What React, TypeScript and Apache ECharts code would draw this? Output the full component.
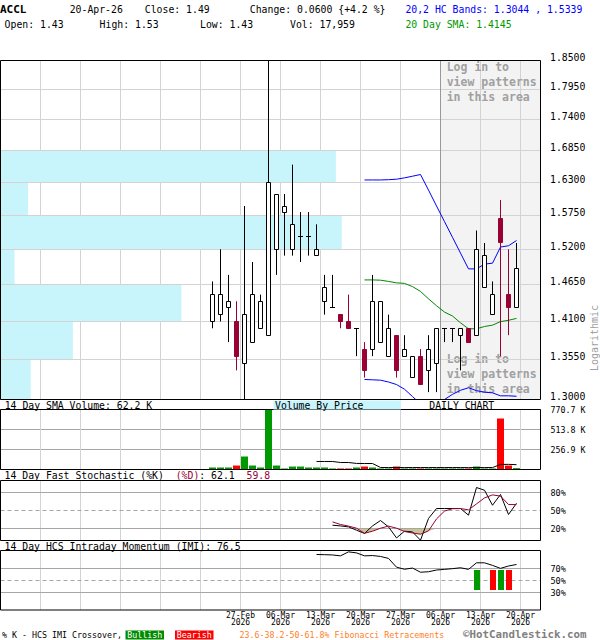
import React, { useEffect, useRef } from 'react';
import * as echarts from 'echarts';

// ---------------- data ----------------
const DATES = [
  '2026-02-24', '2026-02-25', '2026-02-26', '2026-02-27', '2026-03-02', '2026-03-03', '2026-03-04',
  '2026-03-05', '2026-03-06', '2026-03-09', '2026-03-10', '2026-03-11', '2026-03-12', '2026-03-13',
  '2026-03-16', '2026-03-17', '2026-03-18', '2026-03-19', '2026-03-20', '2026-03-23', '2026-03-24',
  '2026-03-25', '2026-03-26', '2026-03-27', '2026-03-30', '2026-03-31', '2026-04-01', '2026-04-02',
  '2026-04-06', '2026-04-07', '2026-04-08', '2026-04-09', '2026-04-10', '2026-04-13', '2026-04-14',
  '2026-04-15', '2026-04-16', '2026-04-17', '2026-04-20',
];
const OPEN = [1.41, 1.42, 1.43, 1.41, 1.35, 1.38, 1.40, 1.39, 1.52, 1.58, 1.52, 1.54, 1.54, 1.51, 1.44, 1.43, 1.42, 1.41, 1.40, 1.37,
  1.37, 1.38, 1.36, 1.39, 1.36, 1.33, 1.36, 1.34, 1.35, 1.40, 1.40, 1.39, 1.40, 1.39, 1.46, 1.42, 1.57, 1.45, 1.43];
const HIGH = [1.47, 1.52, 1.48, 1.44, 1.59, 1.50, 1.45, 1.85, 1.61, 1.61, 1.66, 1.58, 1.58, 1.56, 1.48, 1.48, 1.42, 1.45, 1.40, 1.38,
  1.48, 1.44, 1.42, 1.39, 1.39, 1.36, 1.37, 1.39, 1.40, 1.40, 1.40, 1.40, 1.40, 1.55, 1.53, 1.47, 1.60, 1.52, 1.53];
const LOW = [1.40, 1.41, 1.38, 1.34, 1.30, 1.38, 1.40, 1.39, 1.48, 1.51, 1.51, 1.50, 1.51, 1.51, 1.42, 1.43, 1.40, 1.40, 1.36, 1.33,
  1.36, 1.38, 1.36, 1.33, 1.36, 1.33, 1.32, 1.31, 1.31, 1.38, 1.38, 1.34, 1.38, 1.39, 1.46, 1.42, 1.36, 1.39, 1.43];
const CLOSE = [1.45, 1.45, 1.44, 1.36, 1.42, 1.45, 1.44, 1.63, 1.61, 1.59, 1.56, 1.54, 1.54, 1.52, 1.46, 1.43, 1.41, 1.40, 1.40, 1.34,
  1.44, 1.44, 1.40, 1.34, 1.37, 1.36, 1.32, 1.37, 1.40, 1.40, 1.40, 1.40, 1.38, 1.52, 1.51, 1.45, 1.53, 1.43, 1.49];
const VOLUME_K = [26, 26, 26, 51, 167, 51, 26, 770, 51, 13, 38, 38, 26, 26, 26, 13, 13, 13, 26, 38,
  26, 13, 13, 38, 13, 13, 13, 13, 13, 13, 13, 13, 13, 38, 13, 13, 655, 51, 18];

const VOL_SMA_START = 13;
const VOL_SMA_K = [103, 103, 103, 90, 90, 78, 77, 77, 26, 25, 26, 25, 25, 25, 25, 25, 25, 25, 25, 24, 25, 25, 25, 65, 66, 62.2];

const BAND_START = 19;
const HC_UPPER = [1.6337, 1.6337, 1.6337, 1.6342, 1.635, 1.6373, 1.6401, 1.643, 1.6166, 1.5901, 1.5644, 1.539, 1.514, 1.4893,
  1.4893, 1.4967, 1.4982, 1.5235, 1.5256, 1.5339];
const HC_LOWER = [1.3274, 1.3269, 1.3264, 1.3239, 1.3204, 1.314, 1.304, 1.294, 1.288, 1.289, 1.300, 1.307, 1.3125, 1.316,
  1.312, 1.310, 1.309, 1.305, 1.305, 1.3044];
const SMA20 = [1.4723, 1.4723, 1.4719, 1.4700, 1.4678, 1.4670, 1.4621, 1.4548, 1.4436, 1.4333, 1.4238, 1.418, 1.408, 1.3993,
  1.3993, 1.4026, 1.4046, 1.4098, 1.4117, 1.4145];

const STOCH_START = 15;
const STOCH_K = [25.5, 24.3, 22.7, 17.2, 11.7, 24.3, 33.3, 22.7, 4.3, 15.5, 14.3, 0.5, 36.7, 53.3, 53.3, 53.3, 53.3, 42.2,
  88.3, 83.8, 58.8, 76.7, 43.3, 62.1];
const STOCH_D = [31, 26.7, 24, 20.5, 12, 15.5, 20.5, 24, 20.5, 15, 12.5, 10.5, 16, 36, 49, 53, 53.3, 51, 61, 71, 76, 74, 60, 59.8];
const OVERSOLD = 20;

const IMI_START = 13;
const IMI = [93.3, 93, 92.5, 91, 97.7, 96, 91, 91.5, 90, 86.7, 72, 68.5, 70.5, 63.5, 64.3, 67.2, 68.3, 69.5, 71, 68.3,
  79.3, 79.3, 75, 70, 73.9, 76.5];
const CROSS_DATES = ['2026-04-13', '2026-04-15', '2026-04-16', '2026-04-17'];
const CROSS_KIND = ['bull', 'bear', 'bull', 'bear'];
const CROSS_RANGE = [33, 67];

const PRICE_TICKS = [1.30, 1.355, 1.41, 1.465, 1.52, 1.575, 1.63, 1.685, 1.74, 1.795, 1.85];
const VBP_LOW = [1.30, 1.355, 1.41, 1.465, 1.52, 1.575, 1.63];
const VBP_HIGH = [1.355, 1.41, 1.465, 1.52, 1.575, 1.63, 1.685];
const VBP_PCT = [5.6, 13.4, 33.5, 2.6, 63.2, 5.1, 62.1];

const VOL_AXIS_MAX = 770.7;
const VOL_TICK = 256.9;
const STOCH_LEVELS = [20, 50, 80];
const IMI_LEVELS = [30, 50, 70];
const PATTERN_ZONE_FROM = '2026-04-06';

// ---------------- layout / style ----------------
const MONO = '"DejaVu Sans Mono", monospace';
const X_MIN = -26.5;
const X_MAX = 41;
const UP_COLOR = '#000000';
const DOWN_COLOR = '#990033';
const GRID_LIGHT = '#d3d3d3';
const GRID_MID = '#a6a6a6';
const MONTHS = ['Jan', 'Feb', 'Mar', 'Apr', 'May', 'Jun', 'Jul', 'Aug', 'Sep', 'Oct', 'Nov', 'Dec'];

const snap = (v: number) => Math.round(v - 0.5) + 0.5;

function dateLabel(v: number): string {
  const i = Math.round(v - 0.5);
  if (Math.abs(v - 0.5 - i) > 1e-6 || i < 0 || i >= DATES.length) return '';
  const [y, m, d] = DATES[i].split('-');
  return `${d}-${MONTHS[Number(m) - 1]}\n${y}`;
}

function xAxisFor(gridIndex: number, labels: boolean) {
  return {
    type: 'value', gridIndex, min: X_MIN, max: X_MAX, interval: 5,
    axisLine: { show: false }, axisTick: { show: false },
    axisLabel: labels
      ? { show: true, formatter: dateLabel, fontSize: 8, lineHeight: 7.5, fontFamily: MONO, color: '#000', margin: 1.5 }
      : { show: false },
    splitLine: { show: true, lineStyle: { color: GRID_LIGHT, width: 1 } },
  };
}

function levelSeries(xAxisIndex: number, yAxisIndex: number, levels: number[], opts: any) {
  return {
    type: 'custom', xAxisIndex, yAxisIndex, z: opts.z, silent: true,
    data: levels.map((v) => [0, v]),
    renderItem: (params: any, api: any) => {
      const cs = params.coordSys;
      const v = api.value(1);
      const y = snap(api.coord([0, v])[1]);
      return {
        type: 'group',
        children: [
          { type: 'line', shape: { x1: cs.x, y1: y, x2: cs.x + cs.width, y2: y },
            style: { stroke: opts.color, lineWidth: 1, lineDash: opts.dashed && opts.dashed(v) ? [4, 3] : null } },
          { type: 'text', x: cs.x + cs.width + opts.gap, y: y + opts.dy,
            style: { text: opts.fmt(v), fill: '#000', fontSize: opts.size, fontFamily: MONO,
              align: 'left', verticalAlign: 'middle', textAlign: 'left', textVerticalAlign: 'middle' } },
        ],
      };
    },
  };
}

function T(x: number, y: number, text: string, o: any = {}) {
  return {
    type: 'text', x, y, z: o.z ?? 50, rotation: o.rotation || 0, silent: true,
    style: {
      text, fill: o.fill || '#000', fontSize: o.size || 9.8, fontFamily: MONO,
      fontWeight: o.bold ? 'bold' : 'normal',
      lineHeight: o.lineHeight,
      align: o.align || 'left', verticalAlign: 'middle',
      textAlign: o.align || 'left', textVerticalAlign: 'middle',
    },
  };
}

function buildOption() {
  const zoneX = DATES.indexOf(PATTERN_ZONE_FROM) + 0.5;
  const gridBase = { show: true, borderColor: '#000', borderWidth: 1, backgroundColor: 'transparent', z: 10,
    containLabel: false, outerBoundsMode: 'none' };

  const lineS = (xi: number, yi: number, data: any[], color: string, z = 3) => ({
    type: 'line', xAxisIndex: xi, yAxisIndex: yi, data, symbol: 'none', showSymbol: false, silent: true, z,
    lineStyle: { color, width: 1 }, emphasis: { disabled: true }, animation: false,
  });

  const loginLines = ['Log in to', 'view patterns', 'in this area'];
  const graphic: any[] = [
    T(0, 9.2, 'ACCL', { bold: true, size: 11 }),
    T(69.7, 9.2, '20-Apr-26'),
    T(144.8, 9.2, 'Close: 1.49'),
    T(249.8, 9.2, 'Change: 0.0600 {+4.2 %}'),
    T(405.4, 9.2, '20,2 HC Bands: 1.3044 , 1.5339', { fill: '#0000ff' }),
    T(4.6, 24.2, 'Open: 1.43'),
    T(99.6, 24.2, 'High: 1.53'),
    T(200, 24.2, 'Low: 1.43'),
    T(290, 24.2, 'Vol: 17,959'),
    T(405.4, 24.2, '20 Day SMA: 1.4145', { fill: '#009900' }),
    ...loginLines.map((s, k) => T(446.7, 67.3 + 15 * k, s, { bold: true, size: 11.5, fill: '#a0a0a0', z: 1 })),
    ...loginLines.map((s, k) => T(446.7, 359.3 + 15 * k, s, { bold: true, size: 11.5, fill: '#a0a0a0', z: 1 })),
    T(594, 338, 'Logarithmic', { fill: '#a0a0a0', size: 10, align: 'center', rotation: Math.PI / 2 }),
    T(4.7, 405.5, '14 Day SMA Volume: 62.2 K'),
    { type: 'rect', z: 40, silent: true, shape: { x: 273.5, y: 400.5, width: 127.5, height: 9 }, style: { fill: '#c8f4fc' } },
    T(275, 405.5, 'Volume By Price'),
    T(429.3, 405.5, 'DAILY CHART'),
    T(4.6, 475.8, '14 Day Fast Stochastic (%K)'),
    T(175.7, 475.8, '(%D)', { fill: DOWN_COLOR }),
    T(199.3, 475.8, ': 62.1'),
    T(246.5, 475.8, '59.8', { fill: DOWN_COLOR }),
    T(4.6, 546, '14 Day HCS Intraday Momentum (IMI): 76.5'),
    T(2, 635, '% K - HCS IMI Crossover,', { size: 8.3 }),
    { type: 'rect', z: 40, silent: true, shape: { x: 125.5, y: 630.5, width: 38.5, height: 9 }, style: { fill: '#008c00' } },
    T(144.8, 635, 'Bullish', { size: 8.3, fill: '#fff', align: 'center' }),
    { type: 'rect', z: 40, silent: true, shape: { x: 175, y: 630.5, width: 38.5, height: 9 }, style: { fill: '#ff0000' } },
    T(194.2, 635, 'Bearish', { size: 8.3, fill: '#fff', align: 'center' }),
    T(239.5, 635, '23.6-38.2-50-61.8% Fibonacci Retracements', { size: 8.3, fill: '#ff7f27' }),
    T(463, 634.5, '\u00a9HotCandlestick.com', { size: 10.8, bold: true, fill: '#808080', lineHeight: 10 }),
  ];

  return {
    animation: false,
    backgroundColor: '#fff',
    grid: [
      { ...gridBase, left: 0.5, top: 60.5, width: 540, height: 339 },
      { ...gridBase, left: 0.5, top: 409.5, width: 540, height: 60 },
      { ...gridBase, left: 0.5, top: 480.5, width: 540, height: 60 },
      { ...gridBase, left: 0.5, top: 550.5, width: 540, height: 59.5 },
    ],
    xAxis: [
      xAxisFor(0, false),
      { type: 'value', gridIndex: 0, min: 0, max: 100, show: false },
      xAxisFor(1, false),
      xAxisFor(2, false),
      xAxisFor(3, true),
    ],
    yAxis: [
      { type: 'log', logBase: 10, gridIndex: 0, min: PRICE_TICKS[0], max: PRICE_TICKS[PRICE_TICKS.length - 1], show: false },
      {
        type: 'value', gridIndex: 1, position: 'right', min: 0, max: VOL_AXIS_MAX, interval: VOL_TICK,
        axisLine: { show: false }, axisTick: { show: false },
        splitLine: { show: true, lineStyle: { color: GRID_MID, width: 1 } },
        axisLabel: { show: true, margin: 10, fontSize: 8.3, fontFamily: MONO, color: '#000',
          formatter: (v: number) => (v > 0 ? `${v.toFixed(1)} K` : '') },
      },
      { type: 'value', gridIndex: 2, min: 0, max: 100, show: false },
      { type: 'value', gridIndex: 3, min: 0, max: 100, show: false },
    ],
    graphic,
    series: [
      // pattern zone shading (under grid lines)
      {
        type: 'custom', xAxisIndex: 0, yAxisIndex: 0, z: -1, silent: true,
        data: [[zoneX, X_MAX]],
        renderItem: (params: any, api: any) => {
          const cs = params.coordSys;
          const a = api.coord([api.value(0), PRICE_TICKS[0]]);
          const b = api.coord([api.value(1), PRICE_TICKS[0]]);
          return { type: 'rect', shape: { x: snap(a[0]), y: cs.y, width: b[0] - snap(a[0]), height: cs.height }, style: { fill: '#f3f3f3' } };
        },
      },
      // volume by price
      {
        type: 'custom', xAxisIndex: 1, yAxisIndex: 0, z: 1, silent: true,
        data: VBP_PCT.map((p, k) => [p, VBP_LOW[k], VBP_HIGH[k]]),
        renderItem: (params: any, api: any) => {
          const a = api.coord([0, api.value(2)]);
          const b = api.coord([api.value(0), api.value(1)]);
          return { type: 'rect', shape: { x: a[0], y: a[1], width: b[0] - a[0], height: b[1] - a[1] }, style: { fill: '#c8f4fc' } };
        },
      },
      // price grid lines + labels
      levelSeries(0, 0, PRICE_TICKS, { z: 2, color: GRID_LIGHT, gap: 9.5, dy: -3.5, size: 9.8, fmt: (v: number) => v.toFixed(4) }),
      // pattern zone left edge
      {
        type: 'custom', xAxisIndex: 0, yAxisIndex: 0, z: 2, silent: true,
        data: [[zoneX, PRICE_TICKS[0]]],
        renderItem: (params: any, api: any) => {
          const cs = params.coordSys;
          const x = snap(api.coord([api.value(0), PRICE_TICKS[0]])[0]);
          return { type: 'line', shape: { x1: x, y1: cs.y, x2: x, y2: cs.y + cs.height }, style: { stroke: '#999', lineWidth: 1 } };
        },
      },
      lineS(0, 0, HC_UPPER.map((v, k) => [BAND_START + k, v]), '#0000ff'),
      lineS(0, 0, HC_LOWER.map((v, k) => [BAND_START + k, v]), '#0000ff'),
      lineS(0, 0, SMA20.map((v, k) => [BAND_START + k, v]), '#008800'),
      // candles
      {
        type: 'custom', xAxisIndex: 0, yAxisIndex: 0, z: 4, silent: true,
        encode: { x: 0, y: [1, 2, 3, 4] },
        data: DATES.map((_, i) => [i, OPEN[i], CLOSE[i], LOW[i], HIGH[i]]),
        renderItem: (params: any, api: any) => {
          const i = api.value(0), o = api.value(1), c = api.value(2), l = api.value(3), h = api.value(4);
          const pH = api.coord([i, h]), pL = api.coord([i, l]), pO = api.coord([i, o]), pC = api.coord([i, c]);
          const x = snap(pH[0]);
          const up = c >= o;
          const color = up ? UP_COLOR : DOWN_COLOR;
          const children: any[] = [
            { type: 'line', shape: { x1: x, y1: pH[1], x2: x, y2: pL[1] }, style: { stroke: color, lineWidth: 1 } },
          ];
          const yT = snap(Math.min(pO[1], pC[1]));
          const yB = snap(Math.max(pO[1], pC[1]));
          if (yB - yT < 1) {
            children.push({ type: 'line', shape: { x1: x - 2.5, y1: yT, x2: x + 2.5, y2: yT }, style: { stroke: color, lineWidth: 1 } });
          } else {
            children.push({ type: 'rect', shape: { x: x - 2, y: yT, width: 4, height: yB - yT },
              style: { fill: up ? '#ffffff' : color, stroke: color, lineWidth: 1 } });
          }
          return { type: 'group', children };
        },
      },
      // volume
      {
        type: 'bar', xAxisIndex: 2, yAxisIndex: 1, barWidth: 7, silent: true, z: 2,
        emphasis: { disabled: true },
        data: VOLUME_K.map((v, i) => ({ value: [i, v], itemStyle: { color: CLOSE[i] >= OPEN[i] ? '#009900' : '#ff0000' } })),
      },
      lineS(2, 1, VOL_SMA_K.map((v, k) => [VOL_SMA_START + k, v]), '#000000'),
      // stochastic
      {
        type: 'custom', xAxisIndex: 3, yAxisIndex: 2, z: 1, silent: true,
        data: [[STOCH_START, OVERSOLD]],
        renderItem: (params: any, api: any) => {
          const lower = STOCH_D.map((v, k) => api.coord([STOCH_START + k, Math.min(v, OVERSOLD)]));
          const upper = STOCH_D.map((_, k) => api.coord([STOCH_START + k, OVERSOLD])).reverse();
          return { type: 'polygon', shape: { points: lower.concat(upper) }, style: { fill: '#c8c496' } };
        },
      },
      levelSeries(3, 2, STOCH_LEVELS, { z: 2, color: GRID_MID, gap: 10, dy: 0, size: 8.5, fmt: (v: number) => `${v}%`, dashed: (v: number) => v === 50 }),
      lineS(3, 2, STOCH_K.map((v, k) => [STOCH_START + k, v]), '#000000'),
      lineS(3, 2, STOCH_D.map((v, k) => [STOCH_START + k, v]), DOWN_COLOR, 4),
      // IMI
      levelSeries(4, 3, IMI_LEVELS, { z: 1, color: GRID_MID, gap: 10, dy: 0, size: 8.5, fmt: (v: number) => `${v}%`, dashed: (v: number) => v === 50 }),
      {
        type: 'custom', xAxisIndex: 4, yAxisIndex: 3, z: 2, silent: true,
        data: CROSS_DATES.map((d, k) => [DATES.indexOf(d), CROSS_KIND[k] === 'bull' ? 1 : 0]),
        renderItem: (params: any, api: any) => {
          const i = api.value(0);
          const a = api.coord([i, CROSS_RANGE[1]]);
          const b = api.coord([i, CROSS_RANGE[0]]);
          const x = Math.round(a[0] - 3);
          return { type: 'rect', shape: { x, y: Math.round(a[1]), width: 6, height: Math.round(b[1]) - Math.round(a[1]) },
            style: { fill: api.value(1) === 1 ? '#009900' : '#ff0000' } };
        },
      },
      lineS(4, 3, IMI.map((v, k) => [IMI_START + k, v]), '#000000'),
    ],
  };
}

export default function App() {
  const ref = useRef<HTMLDivElement>(null);
  useEffect(() => {
    if (!ref.current) return;
    const chart = echarts.init(ref.current, null, { renderer: 'svg' });
    chart.setOption(buildOption() as any);
    return () => chart.dispose();
  }, []);
  return (
    <div
      ref={ref}
      style={{ position: 'fixed', left: 0, top: 0, width: 600, height: 640, background: '#fff' }}
    />
  );
}
